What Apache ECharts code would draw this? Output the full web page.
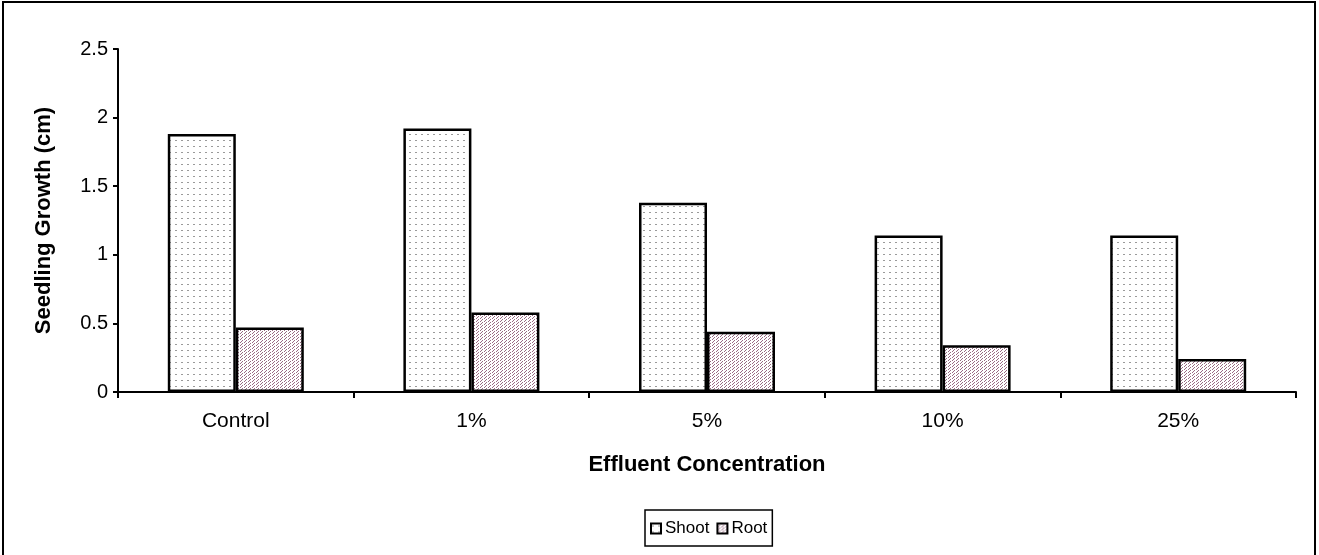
<!DOCTYPE html>
<html><head><meta charset="utf-8">
<script src="https://cdn.jsdelivr.net/npm/echarts@6/dist/echarts.min.js"></script>
<style>html,body{margin:0;padding:0;background:#fff}#c{width:1319px;height:555px}</style>
</head><body><div id="c"></div>
<script>
const categories = ['Control', '1%', '5%', '10%', '25%'];
const shoot = [1.88, 1.92, 1.38, 1.14, 1.14];
const root = [0.47, 0.58, 0.44, 0.34, 0.24];
const seriesNames = ['Shoot', 'Root'];
const yTicks = [0, 0.5, 1, 1.5, 2, 2.5];

function makePattern(w, h, dots, color) {
  const c = document.createElement('canvas');
  c.width = w; c.height = h;
  const g = c.getContext('2d');
  g.fillStyle = '#fff'; g.fillRect(0, 0, w, h);
  g.fillStyle = color;
  dots.forEach(d => g.fillRect(d[0], d[1], d[2], d[3]));
  return c;
}
const shootPat = makePattern(6, 6, [[1, 2, 2, 1]], '#9a9a9a');
const rootPat = makePattern(4, 3, [[0, 0, 1, 1], [2, 1, 1, 1], [1, 2, 1, 1]], '#9a6a84');

const chart = echarts.init(document.getElementById('c'), null, {renderer: 'canvas'});
const font = 'Liberation Sans, Arial, sans-serif';
chart.setOption({
  animation: false,
  backgroundColor: '#fff',
  graphic: [{
    type: 'rect', shape: {x: 3, y: 2, width: 1312, height: 600},
    style: {fill: 'none', stroke: '#000', lineWidth: 2}, silent: true
  }],
  grid: {left: 118, right: 23, top: 49, bottom: 163},
  legend: {
    data: seriesNames,
    left: 645, top: 510,
    padding: [10, 5, 9, 5],
    itemGap: 7,
    itemWidth: 10, itemHeight: 10,
    icon: 'rect',
    borderColor: '#000', borderWidth: 1.5,
    textStyle: {fontFamily: font, fontSize: 17, color: '#000', padding: [0, 0, 0, -1]}
  },
  xAxis: {
    type: 'category', data: categories,
    name: 'Effluent Concentration', nameLocation: 'middle', nameGap: 62,
    nameTextStyle: {fontFamily: font, fontSize: 22, fontWeight: 'bold', color: '#000'},
    axisLine: {lineStyle: {color: '#000', width: 2}},
    axisTick: {show: true, alignWithLabel: false, length: 6, lineStyle: {color: '#000', width: 2}},
    axisLabel: {fontFamily: font, fontSize: 21, color: '#000', margin: 19}
  },
  yAxis: {
    type: 'value', min: yTicks[0], max: yTicks[yTicks.length - 1], interval: 0.5,
    name: 'Seedling Growth (cm)', nameLocation: 'middle', nameGap: 63,
    nameTextStyle: {fontFamily: font, fontSize: 22, fontWeight: 'bold', color: '#000'},
    axisLine: {show: true, lineStyle: {color: '#000', width: 2}},
    axisTick: {show: true, length: 5, lineStyle: {color: '#000', width: 2}},
    axisLabel: {fontFamily: font, fontSize: 20, color: '#000', margin: 10},
    splitLine: {show: false}
  },
  series: [
    {name: seriesNames[0], type: 'bar', data: shoot, barWidth: 68, barGap: '0%',
     itemStyle: {color: {image: shootPat, repeat: 'repeat'}, borderColor: '#000', borderWidth: 2.5}},
    {name: seriesNames[1], type: 'bar', data: root, barWidth: 68,
     itemStyle: {color: {image: rootPat, repeat: 'repeat'}, borderColor: '#000', borderWidth: 2.5}}
  ]
});
</script></body></html>
